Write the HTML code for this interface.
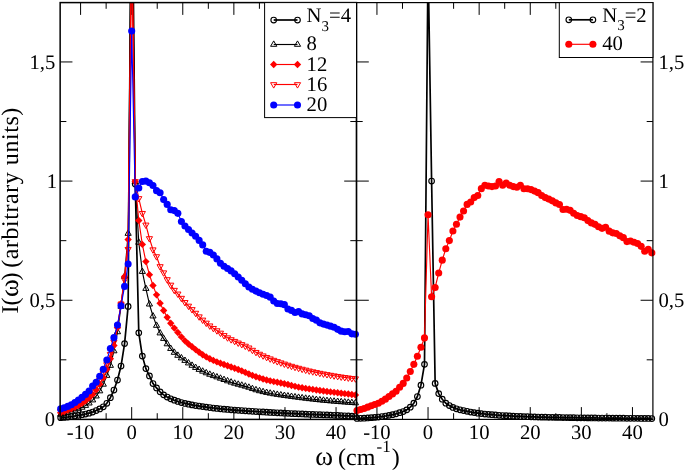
<!DOCTYPE html>
<html><head><meta charset="utf-8"><title>I(omega)</title>
<style>html,body{margin:0;padding:0;background:#fff;}body{width:685px;height:473px;overflow:hidden;font-family:"Liberation Serif",serif;}text{text-rendering:geometricPrecision;}</style>
</head><body>
<svg width="685" height="473" viewBox="0 0 685 473" style="display:block;will-change:transform">
<defs><clipPath id="cl"><rect x="60.15" y="2.6" width="296.35" height="416.8"/></clipPath>
<clipPath id="cr"><rect x="356.5" y="2.6" width="296.4" height="416.8"/></clipPath></defs>
<rect width="685" height="473" fill="#fff"/>
<path d="M80.59 419.4v-12.3M80.59 2.6v12.3M106.14 419.4v-6.2M106.14 2.6v6.2M131.68 419.4v-12.3M131.68 2.6v12.3M157.23 419.4v-6.2M157.23 2.6v6.2M182.78 419.4v-12.3M182.78 2.6v12.3M208.33 419.4v-6.2M208.33 2.6v6.2M233.87 419.4v-12.3M233.87 2.6v12.3M259.42 419.4v-6.2M259.42 2.6v6.2M284.97 419.4v-12.3M284.97 2.6v12.3M310.51 419.4v-6.2M310.51 2.6v6.2M336.06 419.4v-12.3M336.06 2.6v12.3M376.94 419.4v-12.3M376.94 2.6v12.3M402.49 419.4v-6.2M402.49 2.6v6.2M428.04 419.4v-12.3M428.04 2.6v12.3M453.6 419.4v-6.2M453.6 2.6v6.2M479.15 419.4v-12.3M479.15 2.6v12.3M504.7 419.4v-6.2M504.7 2.6v6.2M530.25 419.4v-12.3M530.25 2.6v12.3M555.8 419.4v-6.2M555.8 2.6v6.2M581.36 419.4v-12.3M581.36 2.6v12.3M606.91 419.4v-6.2M606.91 2.6v6.2M632.46 419.4v-12.3M632.46 2.6v12.3M60.15 419.4h12.3M356.5 419.4h-12.3M356.5 419.4h12.3M652.9 419.4h-12.3M60.15 359.82h6.2M356.5 359.82h-6.2M356.5 359.82h6.2M652.9 359.82h-6.2M60.15 300.25h12.3M356.5 300.25h-12.3M356.5 300.25h12.3M652.9 300.25h-12.3M60.15 240.67h6.2M356.5 240.67h-6.2M356.5 240.67h6.2M652.9 240.67h-6.2M60.15 181.09h12.3M356.5 181.09h-12.3M356.5 181.09h12.3M652.9 181.09h-12.3M60.15 121.52h6.2M356.5 121.52h-6.2M356.5 121.52h6.2M652.9 121.52h-6.2M60.15 61.94h12.3M356.5 61.94h-12.3M356.5 61.94h12.3M652.9 61.94h-12.3" stroke="#000" stroke-width="1" fill="none"/>
<path d="M60.66 417.73L64.21 417.41L67.76 417.02L71.31 416.54L74.87 415.98L78.42 415.35L81.97 414.72L85.52 414.04L89.07 413.2L92.62 412.05L96.17 410.58L99.72 408.93L103.27 406.77L106.83 403.31L110.38 397.71L113.93 390.09L117.48 380.08L121.03 366.02L124.58 343.62L128.13 306.44L131.68 -176.37L135.23 184.02L138.78 332.85L142.34 356.11L145.89 368.61L149.44 375.97L152.99 383.52L156.54 387.92L160.09 391.85L163.64 394.85L167.19 397.03L170.74 398.77L174.3 400.22L177.85 401.46L181.4 402.5L184.95 403.4L188.5 404.18L192.05 404.88L195.6 405.51L199.15 406.08L202.7 406.61L206.26 407.11L209.81 407.58L213.36 408.02L216.91 408.42L220.46 408.8L224.01 409.15L227.56 409.48L231.11 409.78L234.66 410.05L238.22 410.3L241.77 410.54L245.32 410.78L248.87 411.03L252.42 411.27L255.97 411.51L259.52 411.75L263.07 411.98L266.62 412.2L270.18 412.41L273.73 412.61L277.28 412.8L280.83 412.99L284.38 413.17L287.93 413.34L291.48 413.51L295.03 413.68L298.58 413.84L302.14 413.99L305.69 414.14L309.24 414.28L312.79 414.42L316.34 414.55L319.89 414.69L323.44 414.83L326.99 414.97L330.54 415.12L334.09 415.28L337.65 415.45L341.2 415.62L344.75 415.79L348.3 415.96L351.85 416.12L355.4 416.29" fill="none" stroke="#000" stroke-width="1.7" stroke-linejoin="round" clip-path="url(#cl)"/>
<g><circle cx="60.66" cy="417.73" r="2.8" fill="none" stroke="#000" stroke-width="1.15"/><circle cx="64.21" cy="417.41" r="2.8" fill="none" stroke="#000" stroke-width="1.15"/><circle cx="67.76" cy="417.02" r="2.8" fill="none" stroke="#000" stroke-width="1.15"/><circle cx="71.31" cy="416.54" r="2.8" fill="none" stroke="#000" stroke-width="1.15"/><circle cx="74.87" cy="415.98" r="2.8" fill="none" stroke="#000" stroke-width="1.15"/><circle cx="78.42" cy="415.35" r="2.8" fill="none" stroke="#000" stroke-width="1.15"/><circle cx="81.97" cy="414.72" r="2.8" fill="none" stroke="#000" stroke-width="1.15"/><circle cx="85.52" cy="414.04" r="2.8" fill="none" stroke="#000" stroke-width="1.15"/><circle cx="89.07" cy="413.2" r="2.8" fill="none" stroke="#000" stroke-width="1.15"/><circle cx="92.62" cy="412.05" r="2.8" fill="none" stroke="#000" stroke-width="1.15"/><circle cx="96.17" cy="410.58" r="2.8" fill="none" stroke="#000" stroke-width="1.15"/><circle cx="99.72" cy="408.93" r="2.8" fill="none" stroke="#000" stroke-width="1.15"/><circle cx="103.27" cy="406.77" r="2.8" fill="none" stroke="#000" stroke-width="1.15"/><circle cx="106.83" cy="403.31" r="2.8" fill="none" stroke="#000" stroke-width="1.15"/><circle cx="110.38" cy="397.71" r="2.8" fill="none" stroke="#000" stroke-width="1.15"/><circle cx="113.93" cy="390.09" r="2.8" fill="none" stroke="#000" stroke-width="1.15"/><circle cx="117.48" cy="380.08" r="2.8" fill="none" stroke="#000" stroke-width="1.15"/><circle cx="121.03" cy="366.02" r="2.8" fill="none" stroke="#000" stroke-width="1.15"/><circle cx="124.58" cy="343.62" r="2.8" fill="none" stroke="#000" stroke-width="1.15"/><circle cx="128.13" cy="306.44" r="2.8" fill="none" stroke="#000" stroke-width="1.15"/><circle cx="135.23" cy="184.02" r="2.8" fill="none" stroke="#000" stroke-width="1.15"/><circle cx="138.78" cy="332.85" r="2.8" fill="none" stroke="#000" stroke-width="1.15"/><circle cx="142.34" cy="356.11" r="2.8" fill="none" stroke="#000" stroke-width="1.15"/><circle cx="145.89" cy="368.61" r="2.8" fill="none" stroke="#000" stroke-width="1.15"/><circle cx="149.44" cy="375.97" r="2.8" fill="none" stroke="#000" stroke-width="1.15"/><circle cx="152.99" cy="383.52" r="2.8" fill="none" stroke="#000" stroke-width="1.15"/><circle cx="156.54" cy="387.92" r="2.8" fill="none" stroke="#000" stroke-width="1.15"/><circle cx="160.09" cy="391.85" r="2.8" fill="none" stroke="#000" stroke-width="1.15"/><circle cx="163.64" cy="394.85" r="2.8" fill="none" stroke="#000" stroke-width="1.15"/><circle cx="167.19" cy="397.03" r="2.8" fill="none" stroke="#000" stroke-width="1.15"/><circle cx="170.74" cy="398.77" r="2.8" fill="none" stroke="#000" stroke-width="1.15"/><circle cx="174.3" cy="400.22" r="2.8" fill="none" stroke="#000" stroke-width="1.15"/><circle cx="177.85" cy="401.46" r="2.8" fill="none" stroke="#000" stroke-width="1.15"/><circle cx="181.4" cy="402.5" r="2.8" fill="none" stroke="#000" stroke-width="1.15"/><circle cx="184.95" cy="403.4" r="2.8" fill="none" stroke="#000" stroke-width="1.15"/><circle cx="188.5" cy="404.18" r="2.8" fill="none" stroke="#000" stroke-width="1.15"/><circle cx="192.05" cy="404.88" r="2.8" fill="none" stroke="#000" stroke-width="1.15"/><circle cx="195.6" cy="405.51" r="2.8" fill="none" stroke="#000" stroke-width="1.15"/><circle cx="199.15" cy="406.08" r="2.8" fill="none" stroke="#000" stroke-width="1.15"/><circle cx="202.7" cy="406.61" r="2.8" fill="none" stroke="#000" stroke-width="1.15"/><circle cx="206.26" cy="407.11" r="2.8" fill="none" stroke="#000" stroke-width="1.15"/><circle cx="209.81" cy="407.58" r="2.8" fill="none" stroke="#000" stroke-width="1.15"/><circle cx="213.36" cy="408.02" r="2.8" fill="none" stroke="#000" stroke-width="1.15"/><circle cx="216.91" cy="408.42" r="2.8" fill="none" stroke="#000" stroke-width="1.15"/><circle cx="220.46" cy="408.8" r="2.8" fill="none" stroke="#000" stroke-width="1.15"/><circle cx="224.01" cy="409.15" r="2.8" fill="none" stroke="#000" stroke-width="1.15"/><circle cx="227.56" cy="409.48" r="2.8" fill="none" stroke="#000" stroke-width="1.15"/><circle cx="231.11" cy="409.78" r="2.8" fill="none" stroke="#000" stroke-width="1.15"/><circle cx="234.66" cy="410.05" r="2.8" fill="none" stroke="#000" stroke-width="1.15"/><circle cx="238.22" cy="410.3" r="2.8" fill="none" stroke="#000" stroke-width="1.15"/><circle cx="241.77" cy="410.54" r="2.8" fill="none" stroke="#000" stroke-width="1.15"/><circle cx="245.32" cy="410.78" r="2.8" fill="none" stroke="#000" stroke-width="1.15"/><circle cx="248.87" cy="411.03" r="2.8" fill="none" stroke="#000" stroke-width="1.15"/><circle cx="252.42" cy="411.27" r="2.8" fill="none" stroke="#000" stroke-width="1.15"/><circle cx="255.97" cy="411.51" r="2.8" fill="none" stroke="#000" stroke-width="1.15"/><circle cx="259.52" cy="411.75" r="2.8" fill="none" stroke="#000" stroke-width="1.15"/><circle cx="263.07" cy="411.98" r="2.8" fill="none" stroke="#000" stroke-width="1.15"/><circle cx="266.62" cy="412.2" r="2.8" fill="none" stroke="#000" stroke-width="1.15"/><circle cx="270.18" cy="412.41" r="2.8" fill="none" stroke="#000" stroke-width="1.15"/><circle cx="273.73" cy="412.61" r="2.8" fill="none" stroke="#000" stroke-width="1.15"/><circle cx="277.28" cy="412.8" r="2.8" fill="none" stroke="#000" stroke-width="1.15"/><circle cx="280.83" cy="412.99" r="2.8" fill="none" stroke="#000" stroke-width="1.15"/><circle cx="284.38" cy="413.17" r="2.8" fill="none" stroke="#000" stroke-width="1.15"/><circle cx="287.93" cy="413.34" r="2.8" fill="none" stroke="#000" stroke-width="1.15"/><circle cx="291.48" cy="413.51" r="2.8" fill="none" stroke="#000" stroke-width="1.15"/><circle cx="295.03" cy="413.68" r="2.8" fill="none" stroke="#000" stroke-width="1.15"/><circle cx="298.58" cy="413.84" r="2.8" fill="none" stroke="#000" stroke-width="1.15"/><circle cx="302.14" cy="413.99" r="2.8" fill="none" stroke="#000" stroke-width="1.15"/><circle cx="305.69" cy="414.14" r="2.8" fill="none" stroke="#000" stroke-width="1.15"/><circle cx="309.24" cy="414.28" r="2.8" fill="none" stroke="#000" stroke-width="1.15"/><circle cx="312.79" cy="414.42" r="2.8" fill="none" stroke="#000" stroke-width="1.15"/><circle cx="316.34" cy="414.55" r="2.8" fill="none" stroke="#000" stroke-width="1.15"/><circle cx="319.89" cy="414.69" r="2.8" fill="none" stroke="#000" stroke-width="1.15"/><circle cx="323.44" cy="414.83" r="2.8" fill="none" stroke="#000" stroke-width="1.15"/><circle cx="326.99" cy="414.97" r="2.8" fill="none" stroke="#000" stroke-width="1.15"/><circle cx="330.54" cy="415.12" r="2.8" fill="none" stroke="#000" stroke-width="1.15"/><circle cx="334.09" cy="415.28" r="2.8" fill="none" stroke="#000" stroke-width="1.15"/><circle cx="337.65" cy="415.45" r="2.8" fill="none" stroke="#000" stroke-width="1.15"/><circle cx="341.2" cy="415.62" r="2.8" fill="none" stroke="#000" stroke-width="1.15"/><circle cx="344.75" cy="415.79" r="2.8" fill="none" stroke="#000" stroke-width="1.15"/><circle cx="348.3" cy="415.96" r="2.8" fill="none" stroke="#000" stroke-width="1.15"/><circle cx="351.85" cy="416.12" r="2.8" fill="none" stroke="#000" stroke-width="1.15"/><circle cx="355.4" cy="416.29" r="2.8" fill="none" stroke="#000" stroke-width="1.15"/></g>
<path d="M60.66 414.4L64.21 413.49L67.76 412.49L71.31 411.42L74.87 410.25L78.42 408.91L81.97 407.4L85.52 405.58L89.07 403.18L92.62 400.1L96.17 396.14L99.72 391.04L103.27 384.37L106.83 375.55L110.38 365.54L113.93 351.01L117.48 331.94L121.03 306.44L124.58 276.42L128.13 233.52L131.68 -128.71L135.23 181.8L138.78 242.45L142.34 271.62L145.89 288.59L149.44 304.23L152.99 316.16L156.54 325.52L160.09 333.1L163.64 338.62L167.19 343.99L170.74 348.64L174.3 352.5L177.85 355.49L181.4 358.05L184.95 360.59L188.5 363.11L192.05 365.48L195.6 367.63L199.15 369.57L202.7 371.35L206.26 372.98L209.81 374.45L213.36 375.79L216.91 377.07L220.46 378.38L224.01 379.71L227.56 381.01L231.11 382.25L234.66 383.4L238.22 384.41L241.77 385.36L245.32 386.34L248.87 387.42L252.42 388.76L255.97 389.95L259.52 390.93L263.07 391.81L266.62 392.6L270.18 393.31L273.73 393.95L277.28 394.53L280.83 395.07L284.38 395.6L287.93 396.1L291.48 396.59L295.03 397.05L298.58 397.51L302.14 397.96L305.69 398.41L309.24 398.85L312.79 399.26L316.34 399.66L319.89 400.03L323.44 400.39L326.99 400.73L330.54 401.05L334.09 401.34L337.65 401.63L341.2 401.91L344.75 402.18L348.3 402.45L351.85 402.72L355.4 402.99" fill="none" stroke="#000" stroke-width="1.15" stroke-linejoin="round" clip-path="url(#cl)"/>
<g><path d="M60.66 410.8L63.76 416.2L57.56 416.2Z" fill="none" stroke="#000" stroke-width="1"/><path d="M64.21 409.89L67.31 415.29L61.11 415.29Z" fill="none" stroke="#000" stroke-width="1"/><path d="M67.76 408.89L70.86 414.29L64.66 414.29Z" fill="none" stroke="#000" stroke-width="1"/><path d="M71.31 407.82L74.41 413.22L68.21 413.22Z" fill="none" stroke="#000" stroke-width="1"/><path d="M74.87 406.65L77.97 412.05L71.77 412.05Z" fill="none" stroke="#000" stroke-width="1"/><path d="M78.42 405.31L81.52 410.71L75.32 410.71Z" fill="none" stroke="#000" stroke-width="1"/><path d="M81.97 403.8L85.07 409.2L78.87 409.2Z" fill="none" stroke="#000" stroke-width="1"/><path d="M85.52 401.98L88.62 407.38L82.42 407.38Z" fill="none" stroke="#000" stroke-width="1"/><path d="M89.07 399.58L92.17 404.98L85.97 404.98Z" fill="none" stroke="#000" stroke-width="1"/><path d="M92.62 396.5L95.72 401.9L89.52 401.9Z" fill="none" stroke="#000" stroke-width="1"/><path d="M96.17 392.54L99.27 397.94L93.07 397.94Z" fill="none" stroke="#000" stroke-width="1"/><path d="M99.72 387.44L102.82 392.84L96.62 392.84Z" fill="none" stroke="#000" stroke-width="1"/><path d="M103.27 380.77L106.37 386.17L100.17 386.17Z" fill="none" stroke="#000" stroke-width="1"/><path d="M106.83 371.95L109.93 377.35L103.73 377.35Z" fill="none" stroke="#000" stroke-width="1"/><path d="M110.38 361.94L113.48 367.34L107.28 367.34Z" fill="none" stroke="#000" stroke-width="1"/><path d="M113.93 347.41L117.03 352.81L110.83 352.81Z" fill="none" stroke="#000" stroke-width="1"/><path d="M117.48 328.34L120.58 333.74L114.38 333.74Z" fill="none" stroke="#000" stroke-width="1"/><path d="M121.03 302.84L124.13 308.24L117.93 308.24Z" fill="none" stroke="#000" stroke-width="1"/><path d="M124.58 272.82L127.68 278.22L121.48 278.22Z" fill="none" stroke="#000" stroke-width="1"/><path d="M128.13 229.92L131.23 235.32L125.03 235.32Z" fill="none" stroke="#000" stroke-width="1"/><path d="M135.23 178.2L138.33 183.6L132.13 183.6Z" fill="none" stroke="#000" stroke-width="1"/><path d="M138.78 238.85L141.88 244.25L135.68 244.25Z" fill="none" stroke="#000" stroke-width="1"/><path d="M142.34 268.02L145.44 273.42L139.24 273.42Z" fill="none" stroke="#000" stroke-width="1"/><path d="M145.89 284.99L148.99 290.39L142.79 290.39Z" fill="none" stroke="#000" stroke-width="1"/><path d="M149.44 300.63L152.54 306.03L146.34 306.03Z" fill="none" stroke="#000" stroke-width="1"/><path d="M152.99 312.56L156.09 317.96L149.89 317.96Z" fill="none" stroke="#000" stroke-width="1"/><path d="M156.54 321.92L159.64 327.32L153.44 327.32Z" fill="none" stroke="#000" stroke-width="1"/><path d="M160.09 329.5L163.19 334.9L156.99 334.9Z" fill="none" stroke="#000" stroke-width="1"/><path d="M163.64 335.02L166.74 340.42L160.54 340.42Z" fill="none" stroke="#000" stroke-width="1"/><path d="M167.19 340.39L170.29 345.79L164.09 345.79Z" fill="none" stroke="#000" stroke-width="1"/><path d="M170.74 345.04L173.84 350.44L167.64 350.44Z" fill="none" stroke="#000" stroke-width="1"/><path d="M174.3 348.9L177.4 354.3L171.2 354.3Z" fill="none" stroke="#000" stroke-width="1"/><path d="M177.85 351.89L180.95 357.29L174.75 357.29Z" fill="none" stroke="#000" stroke-width="1"/><path d="M181.4 354.45L184.5 359.85L178.3 359.85Z" fill="none" stroke="#000" stroke-width="1"/><path d="M184.95 356.99L188.05 362.39L181.85 362.39Z" fill="none" stroke="#000" stroke-width="1"/><path d="M188.5 359.51L191.6 364.91L185.4 364.91Z" fill="none" stroke="#000" stroke-width="1"/><path d="M192.05 361.88L195.15 367.28L188.95 367.28Z" fill="none" stroke="#000" stroke-width="1"/><path d="M195.6 364.03L198.7 369.43L192.5 369.43Z" fill="none" stroke="#000" stroke-width="1"/><path d="M199.15 365.97L202.25 371.37L196.05 371.37Z" fill="none" stroke="#000" stroke-width="1"/><path d="M202.7 367.75L205.8 373.15L199.6 373.15Z" fill="none" stroke="#000" stroke-width="1"/><path d="M206.26 369.38L209.36 374.78L203.16 374.78Z" fill="none" stroke="#000" stroke-width="1"/><path d="M209.81 370.85L212.91 376.25L206.71 376.25Z" fill="none" stroke="#000" stroke-width="1"/><path d="M213.36 372.19L216.46 377.59L210.26 377.59Z" fill="none" stroke="#000" stroke-width="1"/><path d="M216.91 373.47L220.01 378.87L213.81 378.87Z" fill="none" stroke="#000" stroke-width="1"/><path d="M220.46 374.78L223.56 380.18L217.36 380.18Z" fill="none" stroke="#000" stroke-width="1"/><path d="M224.01 376.11L227.11 381.51L220.91 381.51Z" fill="none" stroke="#000" stroke-width="1"/><path d="M227.56 377.41L230.66 382.81L224.46 382.81Z" fill="none" stroke="#000" stroke-width="1"/><path d="M231.11 378.65L234.21 384.05L228.01 384.05Z" fill="none" stroke="#000" stroke-width="1"/><path d="M234.66 379.8L237.76 385.2L231.56 385.2Z" fill="none" stroke="#000" stroke-width="1"/><path d="M238.22 380.81L241.32 386.21L235.12 386.21Z" fill="none" stroke="#000" stroke-width="1"/><path d="M241.77 381.76L244.87 387.16L238.67 387.16Z" fill="none" stroke="#000" stroke-width="1"/><path d="M245.32 382.74L248.42 388.14L242.22 388.14Z" fill="none" stroke="#000" stroke-width="1"/><path d="M248.87 383.82L251.97 389.22L245.77 389.22Z" fill="none" stroke="#000" stroke-width="1"/><path d="M252.42 385.16L255.52 390.56L249.32 390.56Z" fill="none" stroke="#000" stroke-width="1"/><path d="M255.97 386.35L259.07 391.75L252.87 391.75Z" fill="none" stroke="#000" stroke-width="1"/><path d="M259.52 387.33L262.62 392.73L256.42 392.73Z" fill="none" stroke="#000" stroke-width="1"/><path d="M263.07 388.21L266.17 393.61L259.97 393.61Z" fill="none" stroke="#000" stroke-width="1"/><path d="M266.62 389L269.72 394.4L263.52 394.4Z" fill="none" stroke="#000" stroke-width="1"/><path d="M270.18 389.71L273.28 395.11L267.08 395.11Z" fill="none" stroke="#000" stroke-width="1"/><path d="M273.73 390.35L276.83 395.75L270.63 395.75Z" fill="none" stroke="#000" stroke-width="1"/><path d="M277.28 390.93L280.38 396.33L274.18 396.33Z" fill="none" stroke="#000" stroke-width="1"/><path d="M280.83 391.47L283.93 396.87L277.73 396.87Z" fill="none" stroke="#000" stroke-width="1"/><path d="M284.38 392L287.48 397.4L281.28 397.4Z" fill="none" stroke="#000" stroke-width="1"/><path d="M287.93 392.5L291.03 397.9L284.83 397.9Z" fill="none" stroke="#000" stroke-width="1"/><path d="M291.48 392.99L294.58 398.39L288.38 398.39Z" fill="none" stroke="#000" stroke-width="1"/><path d="M295.03 393.45L298.13 398.85L291.93 398.85Z" fill="none" stroke="#000" stroke-width="1"/><path d="M298.58 393.91L301.68 399.31L295.48 399.31Z" fill="none" stroke="#000" stroke-width="1"/><path d="M302.14 394.36L305.24 399.76L299.04 399.76Z" fill="none" stroke="#000" stroke-width="1"/><path d="M305.69 394.81L308.79 400.21L302.59 400.21Z" fill="none" stroke="#000" stroke-width="1"/><path d="M309.24 395.25L312.34 400.65L306.14 400.65Z" fill="none" stroke="#000" stroke-width="1"/><path d="M312.79 395.66L315.89 401.06L309.69 401.06Z" fill="none" stroke="#000" stroke-width="1"/><path d="M316.34 396.06L319.44 401.46L313.24 401.46Z" fill="none" stroke="#000" stroke-width="1"/><path d="M319.89 396.43L322.99 401.83L316.79 401.83Z" fill="none" stroke="#000" stroke-width="1"/><path d="M323.44 396.79L326.54 402.19L320.34 402.19Z" fill="none" stroke="#000" stroke-width="1"/><path d="M326.99 397.13L330.09 402.53L323.89 402.53Z" fill="none" stroke="#000" stroke-width="1"/><path d="M330.54 397.45L333.64 402.85L327.44 402.85Z" fill="none" stroke="#000" stroke-width="1"/><path d="M334.09 397.74L337.19 403.14L330.99 403.14Z" fill="none" stroke="#000" stroke-width="1"/><path d="M337.65 398.03L340.75 403.43L334.55 403.43Z" fill="none" stroke="#000" stroke-width="1"/><path d="M341.2 398.31L344.3 403.71L338.1 403.71Z" fill="none" stroke="#000" stroke-width="1"/><path d="M344.75 398.58L347.85 403.98L341.65 403.98Z" fill="none" stroke="#000" stroke-width="1"/><path d="M348.3 398.85L351.4 404.25L345.2 404.25Z" fill="none" stroke="#000" stroke-width="1"/><path d="M351.85 399.12L354.95 404.52L348.75 404.52Z" fill="none" stroke="#000" stroke-width="1"/><path d="M355.4 399.39L358.5 404.79L352.3 404.79Z" fill="none" stroke="#000" stroke-width="1"/></g>
<path d="M60.66 412.73L64.21 411.46L67.76 410.11L71.31 408.74L74.87 407.29L78.42 405.58L81.97 403.4L85.52 400.81L89.07 397.89L92.62 394.38L96.17 389.77L99.72 384.13L103.27 377.7L106.83 369.36L110.38 358.63L113.93 345.52L117.48 327.65L121.03 303.82L124.58 276.42L128.13 239.48L131.68 -81.05L135.23 181.76L138.78 220.47L142.34 244.4L145.89 261.61L149.44 274.66L152.99 285.55L156.54 294.85L160.09 303.27L163.64 310.49L167.19 317.35L170.74 323.28L174.3 328.11L177.85 332.46L181.4 336.9L184.95 340.85L188.5 344.01L192.05 346.82L195.6 349.59L199.15 352.32L202.7 354.8L206.26 356.89L209.81 358.73L213.36 360.39L216.91 361.92L220.46 363.29L224.01 364.56L227.56 365.81L231.11 367.06L234.66 368.28L238.22 369.54L241.77 370.9L245.32 372.41L248.87 373.96L252.42 375.42L255.97 376.7L259.52 377.87L263.07 378.95L266.62 379.95L270.18 380.84L273.73 381.6L277.28 382.29L280.83 382.96L284.38 383.7L287.93 384.55L291.48 385.47L295.03 386.37L298.58 387.16L302.14 387.81L305.69 388.38L309.24 388.91L312.79 389.42L316.34 389.95L319.89 390.46L323.44 390.96L326.99 391.45L330.54 391.91L334.09 392.35L337.65 392.77L341.2 393.2L344.75 393.63L348.3 394.07L351.85 394.52L355.4 394.97" fill="none" stroke="#f00" stroke-width="1.15" stroke-linejoin="round" clip-path="url(#cl)"/>
<g><path d="M60.66 409.03L64.36 412.73L60.66 416.43L56.96 412.73Z" fill="#f00"/><path d="M64.21 407.76L67.91 411.46L64.21 415.16L60.51 411.46Z" fill="#f00"/><path d="M67.76 406.41L71.46 410.11L67.76 413.81L64.06 410.11Z" fill="#f00"/><path d="M71.31 405.04L75.01 408.74L71.31 412.44L67.61 408.74Z" fill="#f00"/><path d="M74.87 403.59L78.57 407.29L74.87 410.99L71.17 407.29Z" fill="#f00"/><path d="M78.42 401.88L82.12 405.58L78.42 409.28L74.72 405.58Z" fill="#f00"/><path d="M81.97 399.7L85.67 403.4L81.97 407.1L78.27 403.4Z" fill="#f00"/><path d="M85.52 397.11L89.22 400.81L85.52 404.51L81.82 400.81Z" fill="#f00"/><path d="M89.07 394.19L92.77 397.89L89.07 401.59L85.37 397.89Z" fill="#f00"/><path d="M92.62 390.68L96.32 394.38L92.62 398.08L88.92 394.38Z" fill="#f00"/><path d="M96.17 386.07L99.87 389.77L96.17 393.47L92.47 389.77Z" fill="#f00"/><path d="M99.72 380.43L103.42 384.13L99.72 387.83L96.02 384.13Z" fill="#f00"/><path d="M103.27 374L106.97 377.7L103.27 381.4L99.57 377.7Z" fill="#f00"/><path d="M106.83 365.66L110.53 369.36L106.83 373.06L103.13 369.36Z" fill="#f00"/><path d="M110.38 354.93L114.08 358.63L110.38 362.33L106.68 358.63Z" fill="#f00"/><path d="M113.93 341.82L117.63 345.52L113.93 349.22L110.23 345.52Z" fill="#f00"/><path d="M117.48 323.95L121.18 327.65L117.48 331.35L113.78 327.65Z" fill="#f00"/><path d="M121.03 300.12L124.73 303.82L121.03 307.52L117.33 303.82Z" fill="#f00"/><path d="M124.58 272.72L128.28 276.42L124.58 280.12L120.88 276.42Z" fill="#f00"/><path d="M128.13 235.78L131.83 239.48L128.13 243.18L124.43 239.48Z" fill="#f00"/><path d="M135.23 178.06L138.93 181.76L135.23 185.46L131.53 181.76Z" fill="#f00"/><path d="M138.78 216.77L142.48 220.47L138.78 224.17L135.08 220.47Z" fill="#f00"/><path d="M142.34 240.7L146.04 244.4L142.34 248.1L138.64 244.4Z" fill="#f00"/><path d="M145.89 257.91L149.59 261.61L145.89 265.31L142.19 261.61Z" fill="#f00"/><path d="M149.44 270.96L153.14 274.66L149.44 278.36L145.74 274.66Z" fill="#f00"/><path d="M152.99 281.85L156.69 285.55L152.99 289.25L149.29 285.55Z" fill="#f00"/><path d="M156.54 291.15L160.24 294.85L156.54 298.55L152.84 294.85Z" fill="#f00"/><path d="M160.09 299.57L163.79 303.27L160.09 306.97L156.39 303.27Z" fill="#f00"/><path d="M163.64 306.79L167.34 310.49L163.64 314.19L159.94 310.49Z" fill="#f00"/><path d="M167.19 313.65L170.89 317.35L167.19 321.05L163.49 317.35Z" fill="#f00"/><path d="M170.74 319.58L174.44 323.28L170.74 326.98L167.04 323.28Z" fill="#f00"/><path d="M174.3 324.41L178 328.11L174.3 331.81L170.6 328.11Z" fill="#f00"/><path d="M177.85 328.76L181.55 332.46L177.85 336.16L174.15 332.46Z" fill="#f00"/><path d="M181.4 333.2L185.1 336.9L181.4 340.6L177.7 336.9Z" fill="#f00"/><path d="M184.95 337.15L188.65 340.85L184.95 344.55L181.25 340.85Z" fill="#f00"/><path d="M188.5 340.31L192.2 344.01L188.5 347.71L184.8 344.01Z" fill="#f00"/><path d="M192.05 343.12L195.75 346.82L192.05 350.52L188.35 346.82Z" fill="#f00"/><path d="M195.6 345.89L199.3 349.59L195.6 353.29L191.9 349.59Z" fill="#f00"/><path d="M199.15 348.62L202.85 352.32L199.15 356.02L195.45 352.32Z" fill="#f00"/><path d="M202.7 351.1L206.4 354.8L202.7 358.5L199 354.8Z" fill="#f00"/><path d="M206.26 353.19L209.96 356.89L206.26 360.59L202.56 356.89Z" fill="#f00"/><path d="M209.81 355.03L213.51 358.73L209.81 362.43L206.11 358.73Z" fill="#f00"/><path d="M213.36 356.69L217.06 360.39L213.36 364.09L209.66 360.39Z" fill="#f00"/><path d="M216.91 358.22L220.61 361.92L216.91 365.62L213.21 361.92Z" fill="#f00"/><path d="M220.46 359.59L224.16 363.29L220.46 366.99L216.76 363.29Z" fill="#f00"/><path d="M224.01 360.86L227.71 364.56L224.01 368.26L220.31 364.56Z" fill="#f00"/><path d="M227.56 362.11L231.26 365.81L227.56 369.51L223.86 365.81Z" fill="#f00"/><path d="M231.11 363.36L234.81 367.06L231.11 370.76L227.41 367.06Z" fill="#f00"/><path d="M234.66 364.58L238.36 368.28L234.66 371.98L230.96 368.28Z" fill="#f00"/><path d="M238.22 365.84L241.92 369.54L238.22 373.24L234.52 369.54Z" fill="#f00"/><path d="M241.77 367.2L245.47 370.9L241.77 374.6L238.07 370.9Z" fill="#f00"/><path d="M245.32 368.71L249.02 372.41L245.32 376.11L241.62 372.41Z" fill="#f00"/><path d="M248.87 370.26L252.57 373.96L248.87 377.66L245.17 373.96Z" fill="#f00"/><path d="M252.42 371.72L256.12 375.42L252.42 379.12L248.72 375.42Z" fill="#f00"/><path d="M255.97 373L259.67 376.7L255.97 380.4L252.27 376.7Z" fill="#f00"/><path d="M259.52 374.17L263.22 377.87L259.52 381.57L255.82 377.87Z" fill="#f00"/><path d="M263.07 375.25L266.77 378.95L263.07 382.65L259.37 378.95Z" fill="#f00"/><path d="M266.62 376.25L270.32 379.95L266.62 383.65L262.92 379.95Z" fill="#f00"/><path d="M270.18 377.14L273.88 380.84L270.18 384.54L266.48 380.84Z" fill="#f00"/><path d="M273.73 377.9L277.43 381.6L273.73 385.3L270.03 381.6Z" fill="#f00"/><path d="M277.28 378.59L280.98 382.29L277.28 385.99L273.58 382.29Z" fill="#f00"/><path d="M280.83 379.26L284.53 382.96L280.83 386.66L277.13 382.96Z" fill="#f00"/><path d="M284.38 380L288.08 383.7L284.38 387.4L280.68 383.7Z" fill="#f00"/><path d="M287.93 380.85L291.63 384.55L287.93 388.25L284.23 384.55Z" fill="#f00"/><path d="M291.48 381.77L295.18 385.47L291.48 389.17L287.78 385.47Z" fill="#f00"/><path d="M295.03 382.67L298.73 386.37L295.03 390.07L291.33 386.37Z" fill="#f00"/><path d="M298.58 383.46L302.28 387.16L298.58 390.86L294.88 387.16Z" fill="#f00"/><path d="M302.14 384.11L305.84 387.81L302.14 391.51L298.44 387.81Z" fill="#f00"/><path d="M305.69 384.68L309.39 388.38L305.69 392.08L301.99 388.38Z" fill="#f00"/><path d="M309.24 385.21L312.94 388.91L309.24 392.61L305.54 388.91Z" fill="#f00"/><path d="M312.79 385.72L316.49 389.42L312.79 393.12L309.09 389.42Z" fill="#f00"/><path d="M316.34 386.25L320.04 389.95L316.34 393.65L312.64 389.95Z" fill="#f00"/><path d="M319.89 386.76L323.59 390.46L319.89 394.16L316.19 390.46Z" fill="#f00"/><path d="M323.44 387.26L327.14 390.96L323.44 394.66L319.74 390.96Z" fill="#f00"/><path d="M326.99 387.75L330.69 391.45L326.99 395.15L323.29 391.45Z" fill="#f00"/><path d="M330.54 388.21L334.24 391.91L330.54 395.61L326.84 391.91Z" fill="#f00"/><path d="M334.09 388.65L337.79 392.35L334.09 396.05L330.39 392.35Z" fill="#f00"/><path d="M337.65 389.07L341.35 392.77L337.65 396.47L333.95 392.77Z" fill="#f00"/><path d="M341.2 389.5L344.9 393.2L341.2 396.9L337.5 393.2Z" fill="#f00"/><path d="M344.75 389.93L348.45 393.63L344.75 397.33L341.05 393.63Z" fill="#f00"/><path d="M348.3 390.37L352 394.07L348.3 397.77L344.6 394.07Z" fill="#f00"/><path d="M351.85 390.82L355.55 394.52L351.85 398.22L348.15 394.52Z" fill="#f00"/><path d="M355.4 391.27L359.1 394.97L355.4 398.67L351.7 394.97Z" fill="#f00"/></g>
<path d="M60.66 411.3L64.21 409.93L67.76 408.44L71.31 406.87L74.87 405.17L78.42 403.2L81.97 400.79L85.52 397.95L89.07 394.69L92.62 390.8L96.17 385.92L99.72 380.08L103.27 373.41L106.83 364.59L110.38 354.34L113.93 341.95L117.48 325.98L121.03 303.82L124.58 279.99L128.13 249.25L131.68 -45.3L135.23 181.47L138.78 198.43L142.34 213.26L145.89 224.9L149.44 238.49L152.99 249.69L156.54 256.53L160.09 266.5L163.64 272.68L167.19 279.5L170.74 284.97L174.3 290.15L177.85 293.85L181.4 298.14L184.95 302.36L188.5 305.98L192.05 309.45L195.6 313.08L199.15 316.67L202.7 319.94L206.26 322.97L209.81 325.76L213.36 328.26L216.91 330.59L220.46 332.96L224.01 335.42L227.56 337.66L231.11 339.53L234.66 341.21L238.22 342.85L241.77 344.44L245.32 346.02L248.87 347.8L252.42 350.11L255.97 352.24L259.52 354.05L263.07 355.71L266.62 357.26L270.18 358.73L273.73 360.13L277.28 361.45L280.83 362.7L284.38 363.89L287.93 365.02L291.48 366.1L295.03 367.13L298.58 368.11L302.14 369.05L305.69 369.95L309.24 370.82L312.79 371.63L316.34 372.4L319.89 373.12L323.44 373.8L326.99 374.46L330.54 375.09L334.09 375.7L337.65 376.28L341.2 376.84L344.75 377.35L348.3 377.82L351.85 378.27L355.4 378.68" fill="none" stroke="#f00" stroke-width="1.15" stroke-linejoin="round" clip-path="url(#cl)"/>
<g><path d="M60.66 414.9L63.76 409.5L57.56 409.5Z" fill="none" stroke="#f00" stroke-width="1"/><path d="M64.21 413.53L67.31 408.13L61.11 408.13Z" fill="none" stroke="#f00" stroke-width="1"/><path d="M67.76 412.04L70.86 406.64L64.66 406.64Z" fill="none" stroke="#f00" stroke-width="1"/><path d="M71.31 410.47L74.41 405.07L68.21 405.07Z" fill="none" stroke="#f00" stroke-width="1"/><path d="M74.87 408.77L77.97 403.37L71.77 403.37Z" fill="none" stroke="#f00" stroke-width="1"/><path d="M78.42 406.8L81.52 401.4L75.32 401.4Z" fill="none" stroke="#f00" stroke-width="1"/><path d="M81.97 404.39L85.07 398.99L78.87 398.99Z" fill="none" stroke="#f00" stroke-width="1"/><path d="M85.52 401.55L88.62 396.15L82.42 396.15Z" fill="none" stroke="#f00" stroke-width="1"/><path d="M89.07 398.29L92.17 392.89L85.97 392.89Z" fill="none" stroke="#f00" stroke-width="1"/><path d="M92.62 394.4L95.72 389L89.52 389Z" fill="none" stroke="#f00" stroke-width="1"/><path d="M96.17 389.52L99.27 384.12L93.07 384.12Z" fill="none" stroke="#f00" stroke-width="1"/><path d="M99.72 383.68L102.82 378.28L96.62 378.28Z" fill="none" stroke="#f00" stroke-width="1"/><path d="M103.27 377.01L106.37 371.61L100.17 371.61Z" fill="none" stroke="#f00" stroke-width="1"/><path d="M106.83 368.19L109.93 362.79L103.73 362.79Z" fill="none" stroke="#f00" stroke-width="1"/><path d="M110.38 357.94L113.48 352.54L107.28 352.54Z" fill="none" stroke="#f00" stroke-width="1"/><path d="M113.93 345.55L117.03 340.15L110.83 340.15Z" fill="none" stroke="#f00" stroke-width="1"/><path d="M117.48 329.58L120.58 324.18L114.38 324.18Z" fill="none" stroke="#f00" stroke-width="1"/><path d="M121.03 307.42L124.13 302.02L117.93 302.02Z" fill="none" stroke="#f00" stroke-width="1"/><path d="M124.58 283.59L127.68 278.19L121.48 278.19Z" fill="none" stroke="#f00" stroke-width="1"/><path d="M128.13 252.85L131.23 247.45L125.03 247.45Z" fill="none" stroke="#f00" stroke-width="1"/><path d="M135.23 185.07L138.33 179.67L132.13 179.67Z" fill="none" stroke="#f00" stroke-width="1"/><path d="M138.78 202.03L141.88 196.63L135.68 196.63Z" fill="none" stroke="#f00" stroke-width="1"/><path d="M142.34 216.86L145.44 211.46L139.24 211.46Z" fill="none" stroke="#f00" stroke-width="1"/><path d="M145.89 228.5L148.99 223.1L142.79 223.1Z" fill="none" stroke="#f00" stroke-width="1"/><path d="M149.44 242.09L152.54 236.69L146.34 236.69Z" fill="none" stroke="#f00" stroke-width="1"/><path d="M152.99 253.29L156.09 247.89L149.89 247.89Z" fill="none" stroke="#f00" stroke-width="1"/><path d="M156.54 260.13L159.64 254.73L153.44 254.73Z" fill="none" stroke="#f00" stroke-width="1"/><path d="M160.09 270.1L163.19 264.7L156.99 264.7Z" fill="none" stroke="#f00" stroke-width="1"/><path d="M163.64 276.28L166.74 270.88L160.54 270.88Z" fill="none" stroke="#f00" stroke-width="1"/><path d="M167.19 283.1L170.29 277.7L164.09 277.7Z" fill="none" stroke="#f00" stroke-width="1"/><path d="M170.74 288.57L173.84 283.17L167.64 283.17Z" fill="none" stroke="#f00" stroke-width="1"/><path d="M174.3 293.75L177.4 288.35L171.2 288.35Z" fill="none" stroke="#f00" stroke-width="1"/><path d="M177.85 297.45L180.95 292.05L174.75 292.05Z" fill="none" stroke="#f00" stroke-width="1"/><path d="M181.4 301.74L184.5 296.34L178.3 296.34Z" fill="none" stroke="#f00" stroke-width="1"/><path d="M184.95 305.96L188.05 300.56L181.85 300.56Z" fill="none" stroke="#f00" stroke-width="1"/><path d="M188.5 309.58L191.6 304.18L185.4 304.18Z" fill="none" stroke="#f00" stroke-width="1"/><path d="M192.05 313.05L195.15 307.65L188.95 307.65Z" fill="none" stroke="#f00" stroke-width="1"/><path d="M195.6 316.68L198.7 311.28L192.5 311.28Z" fill="none" stroke="#f00" stroke-width="1"/><path d="M199.15 320.27L202.25 314.87L196.05 314.87Z" fill="none" stroke="#f00" stroke-width="1"/><path d="M202.7 323.54L205.8 318.14L199.6 318.14Z" fill="none" stroke="#f00" stroke-width="1"/><path d="M206.26 326.57L209.36 321.17L203.16 321.17Z" fill="none" stroke="#f00" stroke-width="1"/><path d="M209.81 329.36L212.91 323.96L206.71 323.96Z" fill="none" stroke="#f00" stroke-width="1"/><path d="M213.36 331.86L216.46 326.46L210.26 326.46Z" fill="none" stroke="#f00" stroke-width="1"/><path d="M216.91 334.19L220.01 328.79L213.81 328.79Z" fill="none" stroke="#f00" stroke-width="1"/><path d="M220.46 336.56L223.56 331.16L217.36 331.16Z" fill="none" stroke="#f00" stroke-width="1"/><path d="M224.01 339.02L227.11 333.62L220.91 333.62Z" fill="none" stroke="#f00" stroke-width="1"/><path d="M227.56 341.26L230.66 335.86L224.46 335.86Z" fill="none" stroke="#f00" stroke-width="1"/><path d="M231.11 343.13L234.21 337.73L228.01 337.73Z" fill="none" stroke="#f00" stroke-width="1"/><path d="M234.66 344.81L237.76 339.41L231.56 339.41Z" fill="none" stroke="#f00" stroke-width="1"/><path d="M238.22 346.45L241.32 341.05L235.12 341.05Z" fill="none" stroke="#f00" stroke-width="1"/><path d="M241.77 348.04L244.87 342.64L238.67 342.64Z" fill="none" stroke="#f00" stroke-width="1"/><path d="M245.32 349.62L248.42 344.22L242.22 344.22Z" fill="none" stroke="#f00" stroke-width="1"/><path d="M248.87 351.4L251.97 346L245.77 346Z" fill="none" stroke="#f00" stroke-width="1"/><path d="M252.42 353.71L255.52 348.31L249.32 348.31Z" fill="none" stroke="#f00" stroke-width="1"/><path d="M255.97 355.84L259.07 350.44L252.87 350.44Z" fill="none" stroke="#f00" stroke-width="1"/><path d="M259.52 357.65L262.62 352.25L256.42 352.25Z" fill="none" stroke="#f00" stroke-width="1"/><path d="M263.07 359.31L266.17 353.91L259.97 353.91Z" fill="none" stroke="#f00" stroke-width="1"/><path d="M266.62 360.86L269.72 355.46L263.52 355.46Z" fill="none" stroke="#f00" stroke-width="1"/><path d="M270.18 362.33L273.28 356.93L267.08 356.93Z" fill="none" stroke="#f00" stroke-width="1"/><path d="M273.73 363.73L276.83 358.33L270.63 358.33Z" fill="none" stroke="#f00" stroke-width="1"/><path d="M277.28 365.05L280.38 359.65L274.18 359.65Z" fill="none" stroke="#f00" stroke-width="1"/><path d="M280.83 366.3L283.93 360.9L277.73 360.9Z" fill="none" stroke="#f00" stroke-width="1"/><path d="M284.38 367.49L287.48 362.09L281.28 362.09Z" fill="none" stroke="#f00" stroke-width="1"/><path d="M287.93 368.62L291.03 363.22L284.83 363.22Z" fill="none" stroke="#f00" stroke-width="1"/><path d="M291.48 369.7L294.58 364.3L288.38 364.3Z" fill="none" stroke="#f00" stroke-width="1"/><path d="M295.03 370.73L298.13 365.33L291.93 365.33Z" fill="none" stroke="#f00" stroke-width="1"/><path d="M298.58 371.71L301.68 366.31L295.48 366.31Z" fill="none" stroke="#f00" stroke-width="1"/><path d="M302.14 372.65L305.24 367.25L299.04 367.25Z" fill="none" stroke="#f00" stroke-width="1"/><path d="M305.69 373.55L308.79 368.15L302.59 368.15Z" fill="none" stroke="#f00" stroke-width="1"/><path d="M309.24 374.42L312.34 369.02L306.14 369.02Z" fill="none" stroke="#f00" stroke-width="1"/><path d="M312.79 375.23L315.89 369.83L309.69 369.83Z" fill="none" stroke="#f00" stroke-width="1"/><path d="M316.34 376L319.44 370.6L313.24 370.6Z" fill="none" stroke="#f00" stroke-width="1"/><path d="M319.89 376.72L322.99 371.32L316.79 371.32Z" fill="none" stroke="#f00" stroke-width="1"/><path d="M323.44 377.4L326.54 372L320.34 372Z" fill="none" stroke="#f00" stroke-width="1"/><path d="M326.99 378.06L330.09 372.66L323.89 372.66Z" fill="none" stroke="#f00" stroke-width="1"/><path d="M330.54 378.69L333.64 373.29L327.44 373.29Z" fill="none" stroke="#f00" stroke-width="1"/><path d="M334.09 379.3L337.19 373.9L330.99 373.9Z" fill="none" stroke="#f00" stroke-width="1"/><path d="M337.65 379.88L340.75 374.48L334.55 374.48Z" fill="none" stroke="#f00" stroke-width="1"/><path d="M341.2 380.44L344.3 375.04L338.1 375.04Z" fill="none" stroke="#f00" stroke-width="1"/><path d="M344.75 380.95L347.85 375.55L341.65 375.55Z" fill="none" stroke="#f00" stroke-width="1"/><path d="M348.3 381.42L351.4 376.02L345.2 376.02Z" fill="none" stroke="#f00" stroke-width="1"/><path d="M351.85 381.87L354.95 376.47L348.75 376.47Z" fill="none" stroke="#f00" stroke-width="1"/><path d="M355.4 382.28L358.5 376.88L352.3 376.88Z" fill="none" stroke="#f00" stroke-width="1"/></g>
<path d="M60.66 408.91L64.21 407.77L67.76 406.38L71.31 404.68L74.87 402.55L78.42 400.1L81.97 397.4L85.52 394.38L89.07 391.04L92.62 386.04L96.17 382.22L99.72 376.27L103.27 369.36L106.83 360.06L110.38 348.62L113.93 337.66L117.48 325.03L121.03 305.73L124.58 286.42L128.13 264.02L131.68 30.96L135.23 196.9L138.78 187.93L142.34 181.49L145.89 181.1L149.44 182.7L152.99 185.55L156.54 190.64L160.09 192.71L163.64 199.62L167.19 204.41L170.74 209.72L174.3 210.62L177.85 213.36L181.4 221.46L184.95 225.99L188.5 229.53L192.05 232.99L195.6 236.26L199.15 240.41L202.7 244.92L206.26 251.28L209.81 252.4L213.36 254.95L216.91 258.9L220.46 263.19L224.01 266.22L227.56 268.56L231.11 270.91L234.66 273.76L238.22 276.95L241.77 280.26L245.32 283.68L248.87 286.96L252.42 289.24L255.97 291.1L259.52 292.77L263.07 294.19L266.62 295.45L270.18 297.13L273.73 301.07L277.28 303.55L280.83 303.75L284.38 304.65L287.93 308.93L291.48 310.4L295.03 312.45L298.58 311.63L302.14 313.88L305.69 314.72L309.24 315.73L312.79 318.46L316.34 320.17L319.89 322.87L323.44 324.08L326.99 325.12L330.54 326.14L334.09 327.18L337.65 329.34L341.2 331.16L344.75 331.76L348.3 331.47L351.85 333.86L355.4 334.25" fill="none" stroke="#00f" stroke-width="1.15" stroke-linejoin="round" clip-path="url(#cl)"/>
<g><circle cx="60.66" cy="408.91" r="3.55" fill="#00f"/><circle cx="64.21" cy="407.77" r="3.55" fill="#00f"/><circle cx="67.76" cy="406.38" r="3.55" fill="#00f"/><circle cx="71.31" cy="404.68" r="3.55" fill="#00f"/><circle cx="74.87" cy="402.55" r="3.55" fill="#00f"/><circle cx="78.42" cy="400.1" r="3.55" fill="#00f"/><circle cx="81.97" cy="397.4" r="3.55" fill="#00f"/><circle cx="85.52" cy="394.38" r="3.55" fill="#00f"/><circle cx="89.07" cy="391.04" r="3.55" fill="#00f"/><circle cx="92.62" cy="386.04" r="3.55" fill="#00f"/><circle cx="96.17" cy="382.22" r="3.55" fill="#00f"/><circle cx="99.72" cy="376.27" r="3.55" fill="#00f"/><circle cx="103.27" cy="369.36" r="3.55" fill="#00f"/><circle cx="106.83" cy="360.06" r="3.55" fill="#00f"/><circle cx="110.38" cy="348.62" r="3.55" fill="#00f"/><circle cx="113.93" cy="337.66" r="3.55" fill="#00f"/><circle cx="117.48" cy="325.03" r="3.55" fill="#00f"/><circle cx="121.03" cy="305.73" r="3.55" fill="#00f"/><circle cx="124.58" cy="286.42" r="3.55" fill="#00f"/><circle cx="128.13" cy="264.02" r="3.55" fill="#00f"/><circle cx="131.68" cy="30.96" r="3.55" fill="#00f"/><circle cx="135.23" cy="196.9" r="3.55" fill="#00f"/><circle cx="138.78" cy="187.93" r="3.55" fill="#00f"/><circle cx="142.34" cy="181.49" r="3.55" fill="#00f"/><circle cx="145.89" cy="181.1" r="3.55" fill="#00f"/><circle cx="149.44" cy="182.7" r="3.55" fill="#00f"/><circle cx="152.99" cy="185.55" r="3.55" fill="#00f"/><circle cx="156.54" cy="190.64" r="3.55" fill="#00f"/><circle cx="160.09" cy="192.71" r="3.55" fill="#00f"/><circle cx="163.64" cy="199.62" r="3.55" fill="#00f"/><circle cx="167.19" cy="204.41" r="3.55" fill="#00f"/><circle cx="170.74" cy="209.72" r="3.55" fill="#00f"/><circle cx="174.3" cy="210.62" r="3.55" fill="#00f"/><circle cx="177.85" cy="213.36" r="3.55" fill="#00f"/><circle cx="181.4" cy="221.46" r="3.55" fill="#00f"/><circle cx="184.95" cy="225.99" r="3.55" fill="#00f"/><circle cx="188.5" cy="229.53" r="3.55" fill="#00f"/><circle cx="192.05" cy="232.99" r="3.55" fill="#00f"/><circle cx="195.6" cy="236.26" r="3.55" fill="#00f"/><circle cx="199.15" cy="240.41" r="3.55" fill="#00f"/><circle cx="202.7" cy="244.92" r="3.55" fill="#00f"/><circle cx="206.26" cy="251.28" r="3.55" fill="#00f"/><circle cx="209.81" cy="252.4" r="3.55" fill="#00f"/><circle cx="213.36" cy="254.95" r="3.55" fill="#00f"/><circle cx="216.91" cy="258.9" r="3.55" fill="#00f"/><circle cx="220.46" cy="263.19" r="3.55" fill="#00f"/><circle cx="224.01" cy="266.22" r="3.55" fill="#00f"/><circle cx="227.56" cy="268.56" r="3.55" fill="#00f"/><circle cx="231.11" cy="270.91" r="3.55" fill="#00f"/><circle cx="234.66" cy="273.76" r="3.55" fill="#00f"/><circle cx="238.22" cy="276.95" r="3.55" fill="#00f"/><circle cx="241.77" cy="280.26" r="3.55" fill="#00f"/><circle cx="245.32" cy="283.68" r="3.55" fill="#00f"/><circle cx="248.87" cy="286.96" r="3.55" fill="#00f"/><circle cx="252.42" cy="289.24" r="3.55" fill="#00f"/><circle cx="255.97" cy="291.1" r="3.55" fill="#00f"/><circle cx="259.52" cy="292.77" r="3.55" fill="#00f"/><circle cx="263.07" cy="294.19" r="3.55" fill="#00f"/><circle cx="266.62" cy="295.45" r="3.55" fill="#00f"/><circle cx="270.18" cy="297.13" r="3.55" fill="#00f"/><circle cx="273.73" cy="301.07" r="3.55" fill="#00f"/><circle cx="277.28" cy="303.55" r="3.55" fill="#00f"/><circle cx="280.83" cy="303.75" r="3.55" fill="#00f"/><circle cx="284.38" cy="304.65" r="3.55" fill="#00f"/><circle cx="287.93" cy="308.93" r="3.55" fill="#00f"/><circle cx="291.48" cy="310.4" r="3.55" fill="#00f"/><circle cx="295.03" cy="312.45" r="3.55" fill="#00f"/><circle cx="298.58" cy="311.63" r="3.55" fill="#00f"/><circle cx="302.14" cy="313.88" r="3.55" fill="#00f"/><circle cx="305.69" cy="314.72" r="3.55" fill="#00f"/><circle cx="309.24" cy="315.73" r="3.55" fill="#00f"/><circle cx="312.79" cy="318.46" r="3.55" fill="#00f"/><circle cx="316.34" cy="320.17" r="3.55" fill="#00f"/><circle cx="319.89" cy="322.87" r="3.55" fill="#00f"/><circle cx="323.44" cy="324.08" r="3.55" fill="#00f"/><circle cx="326.99" cy="325.12" r="3.55" fill="#00f"/><circle cx="330.54" cy="326.14" r="3.55" fill="#00f"/><circle cx="334.09" cy="327.18" r="3.55" fill="#00f"/><circle cx="337.65" cy="329.34" r="3.55" fill="#00f"/><circle cx="341.2" cy="331.16" r="3.55" fill="#00f"/><circle cx="344.75" cy="331.76" r="3.55" fill="#00f"/><circle cx="348.3" cy="331.47" r="3.55" fill="#00f"/><circle cx="351.85" cy="333.86" r="3.55" fill="#00f"/><circle cx="355.4" cy="334.25" r="3.55" fill="#00f"/></g>
<path d="M357.01 418.45L360.56 418.32L364.11 418.16L367.67 417.97L371.22 417.73L374.77 417.42L378.32 417.02L381.87 416.54L385.42 416L388.98 415.37L392.53 414.63L396.08 413.76L399.63 412.73L403.18 411.54L406.73 409.87L410.29 407.15L413.84 403.2L417.39 396.52L420.94 385.2L424.49 364.35L428.04 -40.53L431.6 181L435.15 383.39L438.7 393.6L442.25 399.24L445.8 403.2L449.35 405.57L452.91 407.4L456.46 408.79L460.01 409.78L463.56 410.59L467.11 411.34L470.67 412.02L474.22 412.62L477.77 413.15L481.32 413.6L484.87 414.01L488.42 414.37L491.98 414.7L495.53 414.99L499.08 415.26L502.63 415.51L506.18 415.73L509.73 415.94L513.29 416.13L516.84 416.3L520.39 416.45L523.94 416.6L527.49 416.73L531.04 416.85L534.6 416.95L538.15 417.04L541.7 417.13L545.25 417.21L548.8 417.28L552.35 417.35L555.91 417.42L559.46 417.49L563.01 417.55L566.56 417.61L570.11 417.66L573.66 417.71L577.22 417.76L580.77 417.81L584.32 417.85L587.87 417.89L591.42 417.93L594.97 417.97L598.53 418L602.08 418.03L605.63 418.07L609.18 418.1L612.73 418.13L616.28 418.16L619.84 418.2L623.39 418.23L626.94 418.27L630.49 418.3L634.04 418.33L637.59 418.37L641.15 418.4L644.7 418.43L648.25 418.47L651.8 418.5" fill="none" stroke="#000" stroke-width="1.7" stroke-linejoin="round" clip-path="url(#cr)"/>
<g><circle cx="357.01" cy="418.45" r="2.8" fill="none" stroke="#000" stroke-width="1.15"/><circle cx="360.56" cy="418.32" r="2.8" fill="none" stroke="#000" stroke-width="1.15"/><circle cx="364.11" cy="418.16" r="2.8" fill="none" stroke="#000" stroke-width="1.15"/><circle cx="367.67" cy="417.97" r="2.8" fill="none" stroke="#000" stroke-width="1.15"/><circle cx="371.22" cy="417.73" r="2.8" fill="none" stroke="#000" stroke-width="1.15"/><circle cx="374.77" cy="417.42" r="2.8" fill="none" stroke="#000" stroke-width="1.15"/><circle cx="378.32" cy="417.02" r="2.8" fill="none" stroke="#000" stroke-width="1.15"/><circle cx="381.87" cy="416.54" r="2.8" fill="none" stroke="#000" stroke-width="1.15"/><circle cx="385.42" cy="416" r="2.8" fill="none" stroke="#000" stroke-width="1.15"/><circle cx="388.98" cy="415.37" r="2.8" fill="none" stroke="#000" stroke-width="1.15"/><circle cx="392.53" cy="414.63" r="2.8" fill="none" stroke="#000" stroke-width="1.15"/><circle cx="396.08" cy="413.76" r="2.8" fill="none" stroke="#000" stroke-width="1.15"/><circle cx="399.63" cy="412.73" r="2.8" fill="none" stroke="#000" stroke-width="1.15"/><circle cx="403.18" cy="411.54" r="2.8" fill="none" stroke="#000" stroke-width="1.15"/><circle cx="406.73" cy="409.87" r="2.8" fill="none" stroke="#000" stroke-width="1.15"/><circle cx="410.29" cy="407.15" r="2.8" fill="none" stroke="#000" stroke-width="1.15"/><circle cx="413.84" cy="403.2" r="2.8" fill="none" stroke="#000" stroke-width="1.15"/><circle cx="417.39" cy="396.52" r="2.8" fill="none" stroke="#000" stroke-width="1.15"/><circle cx="420.94" cy="385.2" r="2.8" fill="none" stroke="#000" stroke-width="1.15"/><circle cx="424.49" cy="364.35" r="2.8" fill="none" stroke="#000" stroke-width="1.15"/><circle cx="431.6" cy="181" r="2.8" fill="none" stroke="#000" stroke-width="1.15"/><circle cx="435.15" cy="383.39" r="2.8" fill="none" stroke="#000" stroke-width="1.15"/><circle cx="438.7" cy="393.6" r="2.8" fill="none" stroke="#000" stroke-width="1.15"/><circle cx="442.25" cy="399.24" r="2.8" fill="none" stroke="#000" stroke-width="1.15"/><circle cx="445.8" cy="403.2" r="2.8" fill="none" stroke="#000" stroke-width="1.15"/><circle cx="449.35" cy="405.57" r="2.8" fill="none" stroke="#000" stroke-width="1.15"/><circle cx="452.91" cy="407.4" r="2.8" fill="none" stroke="#000" stroke-width="1.15"/><circle cx="456.46" cy="408.79" r="2.8" fill="none" stroke="#000" stroke-width="1.15"/><circle cx="460.01" cy="409.78" r="2.8" fill="none" stroke="#000" stroke-width="1.15"/><circle cx="463.56" cy="410.59" r="2.8" fill="none" stroke="#000" stroke-width="1.15"/><circle cx="467.11" cy="411.34" r="2.8" fill="none" stroke="#000" stroke-width="1.15"/><circle cx="470.67" cy="412.02" r="2.8" fill="none" stroke="#000" stroke-width="1.15"/><circle cx="474.22" cy="412.62" r="2.8" fill="none" stroke="#000" stroke-width="1.15"/><circle cx="477.77" cy="413.15" r="2.8" fill="none" stroke="#000" stroke-width="1.15"/><circle cx="481.32" cy="413.6" r="2.8" fill="none" stroke="#000" stroke-width="1.15"/><circle cx="484.87" cy="414.01" r="2.8" fill="none" stroke="#000" stroke-width="1.15"/><circle cx="488.42" cy="414.37" r="2.8" fill="none" stroke="#000" stroke-width="1.15"/><circle cx="491.98" cy="414.7" r="2.8" fill="none" stroke="#000" stroke-width="1.15"/><circle cx="495.53" cy="414.99" r="2.8" fill="none" stroke="#000" stroke-width="1.15"/><circle cx="499.08" cy="415.26" r="2.8" fill="none" stroke="#000" stroke-width="1.15"/><circle cx="502.63" cy="415.51" r="2.8" fill="none" stroke="#000" stroke-width="1.15"/><circle cx="506.18" cy="415.73" r="2.8" fill="none" stroke="#000" stroke-width="1.15"/><circle cx="509.73" cy="415.94" r="2.8" fill="none" stroke="#000" stroke-width="1.15"/><circle cx="513.29" cy="416.13" r="2.8" fill="none" stroke="#000" stroke-width="1.15"/><circle cx="516.84" cy="416.3" r="2.8" fill="none" stroke="#000" stroke-width="1.15"/><circle cx="520.39" cy="416.45" r="2.8" fill="none" stroke="#000" stroke-width="1.15"/><circle cx="523.94" cy="416.6" r="2.8" fill="none" stroke="#000" stroke-width="1.15"/><circle cx="527.49" cy="416.73" r="2.8" fill="none" stroke="#000" stroke-width="1.15"/><circle cx="531.04" cy="416.85" r="2.8" fill="none" stroke="#000" stroke-width="1.15"/><circle cx="534.6" cy="416.95" r="2.8" fill="none" stroke="#000" stroke-width="1.15"/><circle cx="538.15" cy="417.04" r="2.8" fill="none" stroke="#000" stroke-width="1.15"/><circle cx="541.7" cy="417.13" r="2.8" fill="none" stroke="#000" stroke-width="1.15"/><circle cx="545.25" cy="417.21" r="2.8" fill="none" stroke="#000" stroke-width="1.15"/><circle cx="548.8" cy="417.28" r="2.8" fill="none" stroke="#000" stroke-width="1.15"/><circle cx="552.35" cy="417.35" r="2.8" fill="none" stroke="#000" stroke-width="1.15"/><circle cx="555.91" cy="417.42" r="2.8" fill="none" stroke="#000" stroke-width="1.15"/><circle cx="559.46" cy="417.49" r="2.8" fill="none" stroke="#000" stroke-width="1.15"/><circle cx="563.01" cy="417.55" r="2.8" fill="none" stroke="#000" stroke-width="1.15"/><circle cx="566.56" cy="417.61" r="2.8" fill="none" stroke="#000" stroke-width="1.15"/><circle cx="570.11" cy="417.66" r="2.8" fill="none" stroke="#000" stroke-width="1.15"/><circle cx="573.66" cy="417.71" r="2.8" fill="none" stroke="#000" stroke-width="1.15"/><circle cx="577.22" cy="417.76" r="2.8" fill="none" stroke="#000" stroke-width="1.15"/><circle cx="580.77" cy="417.81" r="2.8" fill="none" stroke="#000" stroke-width="1.15"/><circle cx="584.32" cy="417.85" r="2.8" fill="none" stroke="#000" stroke-width="1.15"/><circle cx="587.87" cy="417.89" r="2.8" fill="none" stroke="#000" stroke-width="1.15"/><circle cx="591.42" cy="417.93" r="2.8" fill="none" stroke="#000" stroke-width="1.15"/><circle cx="594.97" cy="417.97" r="2.8" fill="none" stroke="#000" stroke-width="1.15"/><circle cx="598.53" cy="418" r="2.8" fill="none" stroke="#000" stroke-width="1.15"/><circle cx="602.08" cy="418.03" r="2.8" fill="none" stroke="#000" stroke-width="1.15"/><circle cx="605.63" cy="418.07" r="2.8" fill="none" stroke="#000" stroke-width="1.15"/><circle cx="609.18" cy="418.1" r="2.8" fill="none" stroke="#000" stroke-width="1.15"/><circle cx="612.73" cy="418.13" r="2.8" fill="none" stroke="#000" stroke-width="1.15"/><circle cx="616.28" cy="418.16" r="2.8" fill="none" stroke="#000" stroke-width="1.15"/><circle cx="619.84" cy="418.2" r="2.8" fill="none" stroke="#000" stroke-width="1.15"/><circle cx="623.39" cy="418.23" r="2.8" fill="none" stroke="#000" stroke-width="1.15"/><circle cx="626.94" cy="418.27" r="2.8" fill="none" stroke="#000" stroke-width="1.15"/><circle cx="630.49" cy="418.3" r="2.8" fill="none" stroke="#000" stroke-width="1.15"/><circle cx="634.04" cy="418.33" r="2.8" fill="none" stroke="#000" stroke-width="1.15"/><circle cx="637.59" cy="418.37" r="2.8" fill="none" stroke="#000" stroke-width="1.15"/><circle cx="641.15" cy="418.4" r="2.8" fill="none" stroke="#000" stroke-width="1.15"/><circle cx="644.7" cy="418.43" r="2.8" fill="none" stroke="#000" stroke-width="1.15"/><circle cx="648.25" cy="418.47" r="2.8" fill="none" stroke="#000" stroke-width="1.15"/><circle cx="651.8" cy="418.5" r="2.8" fill="none" stroke="#000" stroke-width="1.15"/></g>
<path d="M357.01 410.58L360.56 409.56L364.11 408.44L367.67 407.16L371.22 405.82L374.77 404.57L378.32 403.2L381.87 401.29L385.42 399.14L388.98 396.52L392.53 393.9L396.08 391.28L399.63 387.23L403.18 383.42L406.73 377.93L410.29 371.5L413.84 364.35L417.39 356.25L420.94 347.19L424.49 337.9L428.04 214.69L431.6 296.7L435.15 287.46L438.7 273L442.25 260.16L445.8 248.79L449.35 240.61L452.91 230.99L456.46 224.28L460.01 217.08L463.56 210.97L467.11 204.39L470.67 202.03L474.22 197.59L477.77 195.53L481.32 188.67L484.87 185.2L488.42 186L491.98 186.6L495.53 185.99L499.08 181.5L502.63 185.2L506.18 183.1L509.73 185.22L513.29 186.6L516.84 187.2L520.39 185.2L523.94 188.7L527.49 188.7L531.04 189.61L534.6 191.1L538.15 192.63L541.7 195.5L545.25 197.62L548.8 199.1L552.35 200.83L555.91 202.9L559.46 204.44L563.01 209.5L566.56 209.2L570.11 210.33L573.66 213.32L577.22 215.52L580.77 216.65L584.32 217.77L587.87 220.62L591.42 222.92L594.97 224.33L598.53 226.8L602.08 228.36L605.63 227.3L609.18 231.13L612.73 232.86L616.28 233.54L619.84 235.83L623.39 237.64L626.94 241.62L630.49 241.05L634.04 242.29L637.59 243.55L641.15 246.37L644.7 251.19L648.25 249.3L651.8 252.9" fill="none" stroke="#f00" stroke-width="1.15" stroke-linejoin="round" clip-path="url(#cr)"/>
<g><circle cx="357.01" cy="410.58" r="3.55" fill="#f00"/><circle cx="360.56" cy="409.56" r="3.55" fill="#f00"/><circle cx="364.11" cy="408.44" r="3.55" fill="#f00"/><circle cx="367.67" cy="407.16" r="3.55" fill="#f00"/><circle cx="371.22" cy="405.82" r="3.55" fill="#f00"/><circle cx="374.77" cy="404.57" r="3.55" fill="#f00"/><circle cx="378.32" cy="403.2" r="3.55" fill="#f00"/><circle cx="381.87" cy="401.29" r="3.55" fill="#f00"/><circle cx="385.42" cy="399.14" r="3.55" fill="#f00"/><circle cx="388.98" cy="396.52" r="3.55" fill="#f00"/><circle cx="392.53" cy="393.9" r="3.55" fill="#f00"/><circle cx="396.08" cy="391.28" r="3.55" fill="#f00"/><circle cx="399.63" cy="387.23" r="3.55" fill="#f00"/><circle cx="403.18" cy="383.42" r="3.55" fill="#f00"/><circle cx="406.73" cy="377.93" r="3.55" fill="#f00"/><circle cx="410.29" cy="371.5" r="3.55" fill="#f00"/><circle cx="413.84" cy="364.35" r="3.55" fill="#f00"/><circle cx="417.39" cy="356.25" r="3.55" fill="#f00"/><circle cx="420.94" cy="347.19" r="3.55" fill="#f00"/><circle cx="424.49" cy="337.9" r="3.55" fill="#f00"/><circle cx="428.04" cy="214.69" r="3.55" fill="#f00"/><circle cx="431.6" cy="296.7" r="3.55" fill="#f00"/><circle cx="435.15" cy="287.46" r="3.55" fill="#f00"/><circle cx="438.7" cy="273" r="3.55" fill="#f00"/><circle cx="442.25" cy="260.16" r="3.55" fill="#f00"/><circle cx="445.8" cy="248.79" r="3.55" fill="#f00"/><circle cx="449.35" cy="240.61" r="3.55" fill="#f00"/><circle cx="452.91" cy="230.99" r="3.55" fill="#f00"/><circle cx="456.46" cy="224.28" r="3.55" fill="#f00"/><circle cx="460.01" cy="217.08" r="3.55" fill="#f00"/><circle cx="463.56" cy="210.97" r="3.55" fill="#f00"/><circle cx="467.11" cy="204.39" r="3.55" fill="#f00"/><circle cx="470.67" cy="202.03" r="3.55" fill="#f00"/><circle cx="474.22" cy="197.59" r="3.55" fill="#f00"/><circle cx="477.77" cy="195.53" r="3.55" fill="#f00"/><circle cx="481.32" cy="188.67" r="3.55" fill="#f00"/><circle cx="484.87" cy="185.2" r="3.55" fill="#f00"/><circle cx="488.42" cy="186" r="3.55" fill="#f00"/><circle cx="491.98" cy="186.6" r="3.55" fill="#f00"/><circle cx="495.53" cy="185.99" r="3.55" fill="#f00"/><circle cx="499.08" cy="181.5" r="3.55" fill="#f00"/><circle cx="502.63" cy="185.2" r="3.55" fill="#f00"/><circle cx="506.18" cy="183.1" r="3.55" fill="#f00"/><circle cx="509.73" cy="185.22" r="3.55" fill="#f00"/><circle cx="513.29" cy="186.6" r="3.55" fill="#f00"/><circle cx="516.84" cy="187.2" r="3.55" fill="#f00"/><circle cx="520.39" cy="185.2" r="3.55" fill="#f00"/><circle cx="523.94" cy="188.7" r="3.55" fill="#f00"/><circle cx="527.49" cy="188.7" r="3.55" fill="#f00"/><circle cx="531.04" cy="189.61" r="3.55" fill="#f00"/><circle cx="534.6" cy="191.1" r="3.55" fill="#f00"/><circle cx="538.15" cy="192.63" r="3.55" fill="#f00"/><circle cx="541.7" cy="195.5" r="3.55" fill="#f00"/><circle cx="545.25" cy="197.62" r="3.55" fill="#f00"/><circle cx="548.8" cy="199.1" r="3.55" fill="#f00"/><circle cx="552.35" cy="200.83" r="3.55" fill="#f00"/><circle cx="555.91" cy="202.9" r="3.55" fill="#f00"/><circle cx="559.46" cy="204.44" r="3.55" fill="#f00"/><circle cx="563.01" cy="209.5" r="3.55" fill="#f00"/><circle cx="566.56" cy="209.2" r="3.55" fill="#f00"/><circle cx="570.11" cy="210.33" r="3.55" fill="#f00"/><circle cx="573.66" cy="213.32" r="3.55" fill="#f00"/><circle cx="577.22" cy="215.52" r="3.55" fill="#f00"/><circle cx="580.77" cy="216.65" r="3.55" fill="#f00"/><circle cx="584.32" cy="217.77" r="3.55" fill="#f00"/><circle cx="587.87" cy="220.62" r="3.55" fill="#f00"/><circle cx="591.42" cy="222.92" r="3.55" fill="#f00"/><circle cx="594.97" cy="224.33" r="3.55" fill="#f00"/><circle cx="598.53" cy="226.8" r="3.55" fill="#f00"/><circle cx="602.08" cy="228.36" r="3.55" fill="#f00"/><circle cx="605.63" cy="227.3" r="3.55" fill="#f00"/><circle cx="609.18" cy="231.13" r="3.55" fill="#f00"/><circle cx="612.73" cy="232.86" r="3.55" fill="#f00"/><circle cx="616.28" cy="233.54" r="3.55" fill="#f00"/><circle cx="619.84" cy="235.83" r="3.55" fill="#f00"/><circle cx="623.39" cy="237.64" r="3.55" fill="#f00"/><circle cx="626.94" cy="241.62" r="3.55" fill="#f00"/><circle cx="630.49" cy="241.05" r="3.55" fill="#f00"/><circle cx="634.04" cy="242.29" r="3.55" fill="#f00"/><circle cx="637.59" cy="243.55" r="3.55" fill="#f00"/><circle cx="641.15" cy="246.37" r="3.55" fill="#f00"/><circle cx="644.7" cy="251.19" r="3.55" fill="#f00"/><circle cx="648.25" cy="249.3" r="3.55" fill="#f00"/><circle cx="651.8" cy="252.9" r="3.55" fill="#f00"/></g>
<rect x="60.15" y="2.6" width="296.35" height="416.8" fill="none" stroke="#000" stroke-width="1.5"/>
<rect x="356.5" y="2.6" width="296.4" height="416.8" fill="none" stroke="#000" stroke-width="1.2"/>
<g font-family="'Liberation Serif', serif" font-size="20.7" fill="#000">
<text x="80.59" y="439.4" text-anchor="middle">-10</text>
<text x="131.68" y="439.4" text-anchor="middle">0</text>
<text x="182.78" y="439.4" text-anchor="middle">10</text>
<text x="233.87" y="439.4" text-anchor="middle">20</text>
<text x="284.97" y="439.4" text-anchor="middle">30</text>
<text x="336.06" y="439.4" text-anchor="middle">40</text>
<text x="376.94" y="439.4" text-anchor="middle">-10</text>
<text x="428.04" y="439.4" text-anchor="middle">0</text>
<text x="479.15" y="439.4" text-anchor="middle">10</text>
<text x="530.25" y="439.4" text-anchor="middle">20</text>
<text x="581.36" y="439.4" text-anchor="middle">30</text>
<text x="632.46" y="439.4" text-anchor="middle">40</text>
<text x="55.0" y="426.35" text-anchor="end">0</text>
<text x="658.4" y="426.35">0</text>
<text x="55.3" y="307.2" text-anchor="end">0,5</text>
<text x="658.4" y="307.2">0,5</text>
<text x="57.0" y="188.04" text-anchor="end">1</text>
<text x="658.4" y="188.04">1</text>
<text x="55.3" y="68.89" text-anchor="end">1,5</text>
<text x="658.4" y="68.89">1,5</text>
</g>
<g font-family="'Liberation Serif', serif" font-size="24" fill="#000">
<text id="xlab" y="465.1"><tspan x="315.3" font-size="27">ω</tspan><tspan x="338">(cm</tspan><tspan x="376.6" font-size="17" dy="-13.6">-1</tspan><tspan x="391.7" dy="13.6">)</tspan></text>
<g id="ylab" transform="translate(17.8 313.6) rotate(-90)"><text x="0" y="0">I(</text><text x="16.5" y="0" font-size="27">ω</text><text x="33" y="0">)</text><text x="45.8" y="0" letter-spacing="0.55">(arbitrary units)</text></g>
</g>
<rect x="264.6" y="2.6" width="91.9" height="115" fill="#fff" stroke="#000" stroke-width="1"/>
<path d="M273.7 20H297.5" stroke="#000" stroke-width="1.7" fill="none"/>
<circle cx="273.7" cy="20" r="2.8" fill="none" stroke="#000" stroke-width="1.15"/>
<circle cx="297.5" cy="20" r="2.8" fill="none" stroke="#000" stroke-width="1.15"/>
<text x="306.6" y="22.35" font-family="'Liberation Serif', serif" font-size="20.7" fill="#000">N<tspan font-size="15" dy="8.2">3</tspan><tspan dy="-8.2">=4</tspan></text>
<path d="M273.7 44.5H297.5" stroke="#000" stroke-width="1.15" fill="none"/>
<path d="M273.7 40.9L276.8 46.3L270.6 46.3Z" fill="none" stroke="#000" stroke-width="1"/>
<path d="M297.5 40.9L300.6 46.3L294.4 46.3Z" fill="none" stroke="#000" stroke-width="1"/>
<text x="306.6" y="50.3" font-family="'Liberation Serif', serif" font-size="20.7" fill="#000">8</text>
<path d="M273.7 64.5H297.5" stroke="#f00" stroke-width="1.15" fill="none"/>
<path d="M273.7 60.8L277.4 64.5L273.7 68.2L270 64.5Z" fill="#f00"/>
<path d="M297.5 60.8L301.2 64.5L297.5 68.2L293.8 64.5Z" fill="#f00"/>
<text x="306.6" y="70.6" font-family="'Liberation Serif', serif" font-size="20.7" fill="#000">12</text>
<path d="M273.7 84.5H297.5" stroke="#f00" stroke-width="1.15" fill="none"/>
<path d="M273.7 88.1L276.8 82.7L270.6 82.7Z" fill="none" stroke="#f00" stroke-width="1"/>
<path d="M297.5 88.1L300.6 82.7L294.4 82.7Z" fill="none" stroke="#f00" stroke-width="1"/>
<text x="306.6" y="90.7" font-family="'Liberation Serif', serif" font-size="20.7" fill="#000">16</text>
<path d="M273.7 105H297.5" stroke="#00f" stroke-width="1.15" fill="none"/>
<circle cx="273.7" cy="105" r="3.55" fill="#00f"/>
<circle cx="297.5" cy="105" r="3.55" fill="#00f"/>
<text x="306.6" y="110.5" font-family="'Liberation Serif', serif" font-size="20.7" fill="#000">20</text>
<rect x="559.3" y="2.6" width="93.6" height="54.9" fill="#fff" stroke="#000" stroke-width="1"/>
<path d="M568.8 19.8H592.9" stroke="#000" stroke-width="1.7" fill="none"/>
<circle cx="568.8" cy="19.8" r="2.8" fill="none" stroke="#000" stroke-width="1.15"/>
<circle cx="592.9" cy="19.8" r="2.8" fill="none" stroke="#000" stroke-width="1.15"/>
<text x="602.2" y="22.2" font-family="'Liberation Serif', serif" font-size="20.7" fill="#000">N<tspan font-size="15" dy="8.2">3</tspan><tspan dy="-8.2">=2</tspan></text>
<path d="M568.8 44.3H592.9" stroke="#f00" stroke-width="1.15" fill="none"/>
<circle cx="568.8" cy="44.3" r="3.55" fill="#f00"/>
<circle cx="592.9" cy="44.3" r="3.55" fill="#f00"/>
<text x="602.2" y="50.3" font-family="'Liberation Serif', serif" font-size="20.7" fill="#000">40</text>
</svg>
</body></html>
